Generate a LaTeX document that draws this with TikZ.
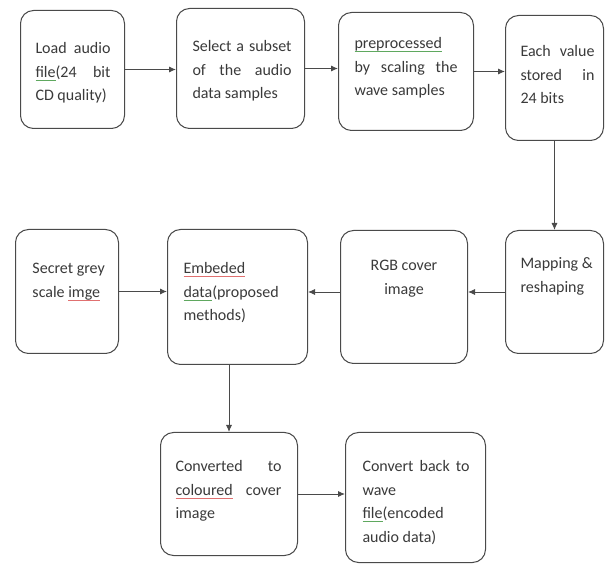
\documentclass[tikz,border=0pt]{standalone}
\usepackage{fontspec}
\setmainfont{Carlito}
\usetikzlibrary{arrows.meta}
\definecolor{txtc}{HTML}{3A3A3A}
\definecolor{lnc}{HTML}{4A4A4A}
\definecolor{sqred}{HTML}{E07070}
\definecolor{sqgreen}{HTML}{5FA85F}
\newcommand\sqline[2]{\leavevmode\setbox0\hbox{#2}\rlap{\textcolor{#1}{\rule[-3pt]{\wd0}{0.7pt}}}\box0}
\newcommand\flowbox[9]{\node[box] (#1) at (#2,#3) {\parbox[c][#5pt][t]{#4pt}{\vspace*{#7pt}\hspace*{#6pt}\parbox[t]{#8pt}{\raggedright\strut #9}}};}
\tikzset{
  box/.style={draw=lnc, line width=1pt, rounded corners=13pt, inner sep=0pt, anchor=north west, text=txtc, font=\fontsize{16}{23.5}\selectfont},
  arr/.style={draw=lnc, line width=0.9pt, -{Latex[length=7pt,width=6pt]}}
}
\begin{document}
\begin{tikzpicture}[x=1pt,y=-1pt]
\useasboundingbox[fill=white] (0,0) rectangle (606,564);
\flowbox{b1}{20}{10}{104}{118}{15}{27}{75}{Load\hfill audio\\\sqline{sqgreen}{file}(24\hfill bit\\CD quality)}
\flowbox{b2}{176}{8}{128}{120}{16}{27}{99}{Select\hfill a\hfill subset\\of\hfill the\hfill audio\\data samples}
\flowbox{b3}{338}{12}{135}{118}{16}{20}{103}{\sqline{sqgreen}{preprocessed}\\by\hfill scaling\hfill the\\wave samples}
\flowbox{b4}{505}{15}{98}{125}{15}{25}{74}{Each\hfill value\\stored\hfill in\\24 bits}
\flowbox{b5}{505}{230}{98}{123}{15}{22}{78}{Mapping \&\\reshaping}
\flowbox{b6}{340}{230}{127}{133}{12}{24}{103}{\centering RGB cover\\image}
\flowbox{b7}{167}{229}{140}{135}{16}{28}{110}{\sqline{sqred}{Embeded}\\\sqline{sqgreen}{data}(proposed\\methods)}
\flowbox{b8}{15}{229}{103}{124}{17}{28}{74}{Secret grey\\scale \sqline{sqred}{imge}}
\flowbox{b9}{160}{432}{137}{123}{15}{23}{106}{Converted\hfill to\\\sqline{sqred}{coloured}\hfill cover\\image}
\flowbox{b10}{345}{432}{140}{130}{17}{23}{107}{Convert\hfill back\hfill to\\wave\\\sqline{sqgreen}{file}(encoded\\audio data)}
\draw[arr] (b1.east) -- (b1.east -| b2.west);
\draw[arr] (b2.east) -- (b2.east -| b3.west);
\draw[arr] (b3.east) -- (b3.east -| b4.west);
\draw[arr] (b4.south) -- (b4.south |- b5.north);
\draw[arr] (b5.west) -- (b5.west -| b6.east);
\draw[arr] (b6.west |- b5.west) -- (b5.west -| b7.east);
\draw[arr] (b8.east) -- (b8.east -| b7.west);
\draw[arr] (b7.south -| b9.north) -- (b9.north);
\draw[arr] (b9.east) -- (b9.east -| b10.west);
\end{tikzpicture}
\end{document}
